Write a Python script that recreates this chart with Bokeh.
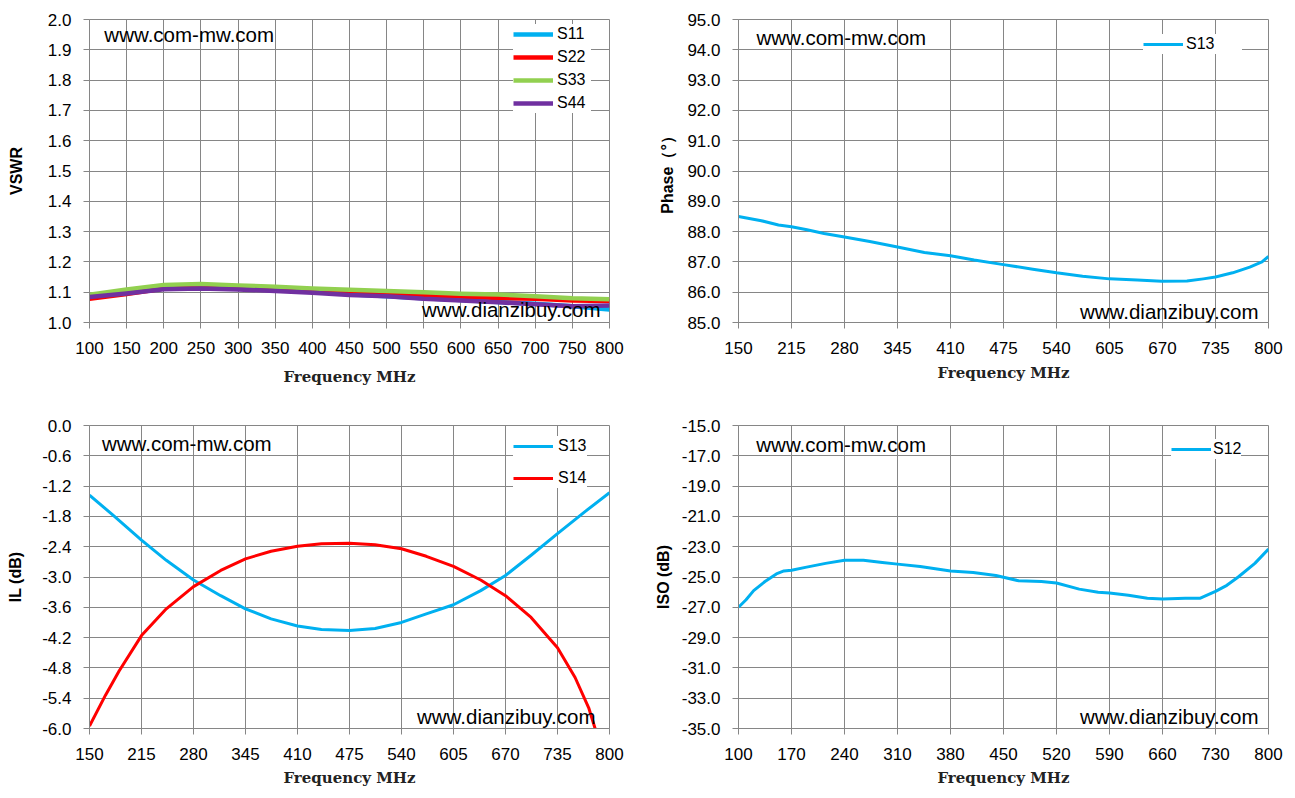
from bokeh.plotting import figure
from bokeh.models import (FixedTicker, NumeralTickFormatter, Legend, LegendItem,
                          Label, Range1d)
from bokeh.layouts import column, row
from bokeh.embed import file_html
from bokeh.resources import INLINE

# ---------------- data ----------------
# Panel 1: VSWR
vswr_freq = [100, 150, 200, 250, 300, 350, 400, 450, 500, 550, 600, 650, 700, 750, 800]
vswr_s11 = [1.090, 1.100, 1.112, 1.114, 1.112, 1.108, 1.102, 1.093, 1.087, 1.080, 1.074, 1.068, 1.062, 1.054, 1.043]
vswr_s22 = [1.078, 1.094, 1.112, 1.116, 1.114, 1.109, 1.103, 1.098, 1.095, 1.090, 1.086, 1.081, 1.078, 1.073, 1.071]
vswr_s33 = [1.092, 1.109, 1.124, 1.127, 1.122, 1.118, 1.112, 1.108, 1.104, 1.100, 1.095, 1.092, 1.087, 1.080, 1.077]
vswr_s44 = [1.084, 1.096, 1.110, 1.112, 1.109, 1.104, 1.098, 1.091, 1.087, 1.078, 1.073, 1.067, 1.060, 1.054, 1.056]
vswr_xticks = [100, 150, 200, 250, 300, 350, 400, 450, 500, 550, 600, 650, 700, 750, 800]
vswr_yticks = [1.0, 1.1, 1.2, 1.3, 1.4, 1.5, 1.6, 1.7, 1.8, 1.9, 2.0]

# Panel 2: Phase S13
phase_freq = [150, 178, 199, 215, 234, 255, 280, 311, 345, 378, 410, 439, 475, 511,
              540, 572, 605, 639, 669, 700, 720, 735, 756, 777, 792, 800]
phase_s13 = [88.50, 88.36, 88.22, 88.16, 88.06, 87.94, 87.82, 87.67, 87.49, 87.31, 87.20, 87.06,
             86.91, 86.76, 86.64, 86.53, 86.44, 86.40, 86.36, 86.37, 86.44, 86.50, 86.64, 86.83,
             87.00, 87.18]
phase_xticks = [150, 215, 280, 345, 410, 475, 540, 605, 670, 735, 800]
phase_yticks = [85, 86, 87, 88, 89, 90, 91, 92, 93, 94, 95]

# Panel 3: IL
il_freq_s13 = [150, 179, 215, 246, 280, 314, 345, 377, 410, 440, 475, 507, 540, 571,
               605, 639, 670, 702, 735, 769, 800]
il_s13 = [-1.38, -1.77, -2.27, -2.67, -3.06, -3.37, -3.63, -3.83, -3.97, -4.04, -4.06, -4.02,
          -3.90, -3.73, -3.55, -3.27, -2.97, -2.57, -2.14, -1.71, -1.33]
il_freq_s14 = [150, 170, 187, 215, 246, 280, 314, 345, 377, 410, 440, 475, 507, 540, 571,
               605, 639, 670, 702, 735, 757, 774, 782, 786]
il_s14 = [-5.95, -5.34, -4.86, -4.16, -3.63, -3.19, -2.87, -2.64, -2.49, -2.39, -2.34, -2.33,
          -2.36, -2.44, -2.59, -2.79, -3.06, -3.37, -3.80, -4.40, -4.99, -5.59, -6.00, -6.20]
il_xticks = [150, 215, 280, 345, 410, 475, 540, 605, 670, 735, 800]
il_yticks = [0.0, -0.6, -1.2, -1.8, -2.4, -3.0, -3.6, -4.2, -4.8, -5.4, -6.0]

# Panel 4: ISO S12
iso_freq = [100, 110, 120, 135, 150, 160, 170, 190, 215, 240, 265, 290, 310, 340, 380, 410,
            440, 470, 500, 520, 550, 575, 590, 615, 640, 660, 690, 710, 730, 745, 760, 782, 800]
iso_s12 = [-27.0, -26.5, -25.9, -25.3, -24.8, -24.6, -24.55, -24.35, -24.1, -23.9, -23.9, -24.05,
           -24.15, -24.3, -24.6, -24.7, -24.9, -25.25, -25.3, -25.4, -25.8, -26.0, -26.05, -26.2,
           -26.4, -26.45, -26.4, -26.4, -25.95, -25.55, -25.0, -24.1, -23.15]
iso_xticks = [100, 170, 240, 310, 380, 450, 520, 590, 660, 730, 800]
iso_yticks = [-15, -17, -19, -21, -23, -25, -27, -29, -31, -33, -35]

# ---------------- style ----------------
BLUE = "#00B0F0"
RED = "#FF0000"
GREEN = "#92D050"
PURPLE = "#7030A0"
GRID = "#868686"
TICK_FONT = "Liberation Sans"
YLAB_FONT = "Liberation Sans"
XLAB_FONT = "DejaVu Serif"


def make_fig(w, h, bl, br, bt, bb, xr, yr, xticks, yticks, ylabel, xstand, ystand):
    p = figure(width=w, height=h, output_backend="svg", toolbar_location=None,
               x_range=Range1d(*xr), y_range=Range1d(*yr),
               min_border_left=bl, min_border_right=br,
               min_border_top=bt, min_border_bottom=bb)
    p.background_fill_color = "white"
    p.border_fill_color = "white"
    p.outline_line_color = GRID
    p.outline_line_width = 1
    for ax in (p.xaxis[0], p.yaxis[0]):
        ax.axis_line_color = GRID
        ax.major_tick_line_color = GRID
        ax.major_tick_in = 0
        ax.major_tick_out = 6
        ax.minor_tick_line_color = None
        ax.minor_tick_in = 0
        ax.minor_tick_out = 0
        ax.major_label_text_font = TICK_FONT
        ax.major_label_text_font_size = "17px"
        ax.major_label_text_color = "black"
    p.xaxis.ticker = FixedTicker(ticks=xticks)
    p.yaxis.ticker = FixedTicker(ticks=yticks)
    p.yaxis.formatter = NumeralTickFormatter(format="0.0")
    p.xaxis.major_label_standoff = 13
    p.yaxis.major_label_standoff = 12
    p.xaxis.axis_label = "Frequency MHz"
    p.xaxis.axis_label_text_font = XLAB_FONT
    p.xaxis.axis_label_text_font_style = "bold"
    p.xaxis.axis_label_text_font_size = "15px"
    p.xaxis.axis_label_text_color = "#222222"
    p.xaxis.axis_label_standoff = xstand
    p.yaxis.axis_label = ylabel
    p.yaxis.axis_label_text_font = YLAB_FONT
    p.yaxis.axis_label_text_font_style = "bold"
    p.yaxis.axis_label_text_font_size = "16px"
    p.yaxis.axis_label_text_color = "black"
    p.yaxis.axis_label_standoff = ystand
    p.xgrid.ticker = FixedTicker(ticks=xticks)
    p.ygrid.ticker = FixedTicker(ticks=yticks)
    p.grid.grid_line_color = GRID
    p.grid.grid_line_width = 1
    p.grid.grid_line_alpha = 1.0
    return p


def add_legend(p, items, loc, glyph_w, standoff, spacing, padding, label_w):
    leg = Legend(items=[LegendItem(label=l, renderers=[r]) for l, r in items],
                 location=loc, orientation="vertical")
    leg.label_text_font = TICK_FONT
    leg.label_text_font_size = "16px"
    leg.label_text_color = "black"
    leg.glyph_width = glyph_w
    leg.glyph_height = 20
    leg.label_height = 20
    leg.label_width = label_w
    leg.label_standoff = standoff
    leg.spacing = spacing
    leg.padding = padding
    leg.margin = 0
    leg.border_line_color = None
    leg.background_fill_color = "white"
    leg.background_fill_alpha = 1.0
    p.add_layout(leg)


def add_marks(p, x1, y1, x2, y2):
    p.add_layout(Label(x=x1, y=y1, text="www.com-mw.com", text_font="Liberation Sans",
                       text_font_size="20.5px", text_baseline="middle", text_align="left",
                       text_color="black"))
    p.add_layout(Label(x=x2, y=y2, text="www.dianzibuy.com", text_font="Liberation Sans",
                       text_font_size="20.5px", text_baseline="middle", text_align="right",
                       text_color="black"))


# ---------------- panel 1 ----------------
p1 = make_fig(640, 400, 89, 31, 19, 78, (100, 800), (1.0, 2.0), vswr_xticks, vswr_yticks,
              "VSWR", 11, 20)
r11 = p1.line(vswr_freq, vswr_s11, line_color=BLUE, line_width=4.5, line_join="round")
r22 = p1.line(vswr_freq, vswr_s22, line_color=RED, line_width=4.5, line_join="round")
r33 = p1.line(vswr_freq, vswr_s33, line_color=GREEN, line_width=4.5, line_join="round")
r44 = p1.line(vswr_freq, vswr_s44, line_color=PURPLE, line_width=4.5, line_join="round")
add_legend(p1, [("S11", r11), ("S22", r22), ("S33", r33), ("S44", r44)],
           (424, 209), 40, 4, 3, 2, 34)
add_marks(p1, 120.0, 1.950, 787.9, 1.043)

# ---------------- panel 2 ----------------
p2 = make_fig(643, 400, 98, 15, 19, 78, (150, 800), (85, 95), phase_xticks, phase_yticks,
              "Phase（°）", 7, 8)
rp = p2.line(phase_freq, phase_s13, line_color=BLUE, line_width=3, line_join="round")
add_legend(p2, [("S13", rp)], (405, 268), 40, 3, 0, 7, 56)
add_marks(p2, 172.0, 94.41, 787.7, 85.36)

# ---------------- panel 3 ----------------
p3 = make_fig(640, 390, 89, 31, 25, 62, (150, 800), (-6.0, 0.0), il_xticks, il_yticks,
              "IL (dB)", 6, 15)
ra = p3.line(il_freq_s13, il_s13, line_color=BLUE, line_width=3, line_join="round")
rb = p3.line(il_freq_s14, il_s14, line_color=RED, line_width=3, line_join="round")
add_legend(p3, [("S13", ra), ("S14", rb)], (424, 240), 40, 5, 12, 7, 29)
add_marks(p3, 165.5, -0.356, 782.5, -5.76)

# ---------------- panel 4 ----------------
p4 = make_fig(643, 390, 98, 15, 25, 62, (100, 800), (-35, -15), iso_xticks, iso_yticks,
              "ISO (dB)", 6, 7)
ri = p4.line(iso_freq, iso_s12, line_color=BLUE, line_width=3, line_join="round")
add_legend(p4, [("S12", ri)], (433, 269), 40, 2, 0, 8, 26)
add_marks(p4, 123.5, -16.25, 786.8, -34.2)

layout = column(row(p1, p2), row(p3, p4))
open("out.html", "w").write(file_html(layout, INLINE))
